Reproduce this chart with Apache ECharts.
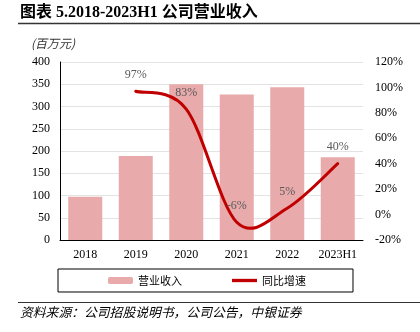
<!DOCTYPE html>
<html><head><meta charset="utf-8">
<script src="https://cdn.jsdelivr.net/npm/echarts@6/dist/echarts.min.js"></script>
<style>html,body{margin:0;padding:0;background:#fff}#c{width:420px;height:332px}</style>
</head><body><div id="c"></div>
<script>
const categories = ['2018','2019','2020','2021','2022','2023H1'];
const revenue = [97, 189, 350, 327, 343, 186];
const growth = [null, 97, 83, -6, 5, 40];
const growthLabels = ['', '97%', '83%', '-6%', '5%', '40%'];
const leftTicks = [0, 400, 50];
const rightTicks = [-20, 120, 20];

const serif = '"Liberation Serif","Times New Roman","Noto Sans CJK SC",serif';
const chart = echarts.init(document.getElementById('c'), null, {renderer:'canvas'});

// smooth curve (Catmull-Rom style) through the growth points, positioned by the axes
function renderCurve(params, api) {
  if (params.dataIndex !== 1) return;
  const pts = [];
  growth.forEach((v, i) => { if (v !== null) pts.push(api.coord([i, v])); });
  const n = pts.length;
  const P = i => pts[Math.max(0, Math.min(n - 1, i))];
  let d = 'M' + pts[0][0] + ',' + pts[0][1];
  for (let i = 0; i < n - 1; i++) {
    const p0 = P(i - 1), p1 = P(i), p2 = P(i + 1), p3 = P(i + 2);
    const c1 = [p1[0] + (p2[0] - p0[0]) / 6, p1[1] + (p2[1] - p0[1]) / 6];
    const c2 = [p2[0] - (p3[0] - p1[0]) / 6, p2[1] - (p3[1] - p1[1]) / 6];
    d += ' C' + c1.join(',') + ' ' + c2.join(',') + ' ' + p2.join(',');
  }
  return {type:'path', shape:{pathData:d}, style:{fill:null, stroke:'#C00000', lineWidth:3, lineCap:'round'}};
}

chart.setOption({
  animation:false,
  backgroundColor:'#fff',
  grid:{left:60, right:57, top:62, bottom:92},
  xAxis:{type:'category', data:categories,
    axisLine:{lineStyle:{color:'#000', width:1}}, axisTick:{show:false},
    axisLabel:{color:'#000', fontFamily:serif, fontSize:12, margin:9}},
  yAxis:[
    {type:'value', min:leftTicks[0], max:leftTicks[1], interval:leftTicks[2],
     axisLine:{show:true, lineStyle:{color:'#000'}}, axisTick:{show:false},
     splitLine:{lineStyle:{color:'#e3e3e3', width:1}},
     axisLabel:{color:'#000', fontFamily:serif, fontSize:12, margin:10}},
    {type:'value', min:rightTicks[0], max:rightTicks[1], interval:rightTicks[2],
     axisLine:{show:false}, axisTick:{show:false}, splitLine:{show:false},
     axisLabel:{color:'#000', fontFamily:serif, fontSize:12, margin:12, formatter:'{value}%'}}
  ],
  legend:{left:58, top:269, itemWidth:25, itemHeight:7, itemGap:50,
    padding:[6,47,6,50], borderColor:'#000', borderWidth:1,
    textStyle:{color:'#000', fontFamily:'"Noto Sans CJK SC",serif', fontSize:11},
    data:[{name:'营业收入'},{name:'同比增速', icon:'path://M0,0H30V4H0Z',
      itemStyle:{color:'#C00000', opacity:1, borderWidth:0}}]},
  series:[
    {name:'营业收入', type:'bar', data:revenue, barWidth:34, z:1,
     itemStyle:{color:'#E8AAAA'}},
    {name:'同比增速curve', type:'custom', yAxisIndex:1, z:3, clip:false,
     data:growth.map((v, i) => [i, v === null ? 0 : v]),
     renderItem:renderCurve, silent:true},
    {name:'同比增速', type:'line', yAxisIndex:1, data:growth, z:4,
     symbol:'circle', symbolSize:1, showSymbol:true, connectNulls:false,
     lineStyle:{color:'rgba(0,0,0,0)', width:1},
     itemStyle:{color:'rgba(0,0,0,0)'},
     label:{show:true, position:'top', distance:10, color:'#595959', fontFamily:serif, fontSize:12,
       formatter:p=>growthLabels[p.dataIndex]}}
  ],
  graphic:[
    {type:'text', left:20, top:5, style:{text:'图表 5.2018-2023H1 公司营业收入', fill:'#000',
      font:'bold 16px "Liberation Serif","Noto Sans CJK SC",serif'}},
    {type:'line', shape:{x1:18, y1:23.5, x2:420, y2:23.5}, style:{stroke:'#333', lineWidth:1.5}},
    {type:'text', left:31, top:37, style:{text:'(百万元)', fill:'#333',
      font:'italic 12px "Noto Sans CJK SC",serif'}},
    {type:'line', shape:{x1:18, y1:302.5, x2:420, y2:302.5}, style:{stroke:'#333', lineWidth:1}},
    {type:'text', left:20, top:306, style:{text:'资料来源：公司招股说明书，公司公告，中银证券', fill:'#000',
      font:'italic 12.8px "Noto Sans CJK SC",serif'}}
  ]
});
</script></body></html>
